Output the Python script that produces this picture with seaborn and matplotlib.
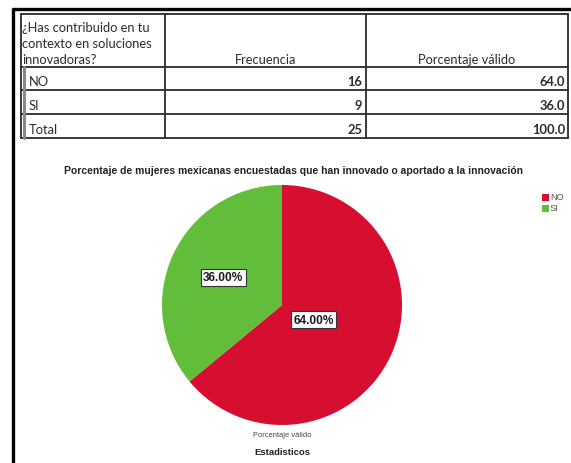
import numpy as np
import matplotlib
matplotlib.use("Agg")
import matplotlib.pyplot as plt
import seaborn as sns

# Frequency table: "¿Has contribuido en tu contexto en soluciones innovadoras?"
question = "¿Has contribuido en tu\ncontexto en soluciones\ninnovadoras?"
col_headers = ["Frecuencia", "Porcentaje válido"]
categories = ["NO", "SI"]
frecuencia = [16, 9]
porcentaje = [64.0, 36.0]
total_label = "Total"

chart_title = ("Porcentaje de mujeres mexicanas encuestadas que han innovado "
               "o aportado a la innovación")
pie_xlabel = "Porcentaje válido"
footer = "Estadisticos"
pie_colors = ["#D60E30", "#62BD3A"]

sns.set_theme(style="white")
plt.rcParams["font.family"] = ["Liberation Sans", "DejaVu Sans"]

W, H = 571, 464
fig = plt.figure(figsize=(W / 100, H / 100), dpi=100)
fig.patch.set_facecolor("white")

# Pixel-space canvas for the frame and the table
bg = fig.add_axes([0, 0, 1, 1])
bg.set_xlim(0, W)
bg.set_ylim(H, 0)
bg.axis("off")

# Outer frame (left and top edges)
bg.plot([13, 13], [9, H], color="black", lw=2.4, solid_capstyle="butt")
bg.plot([12, W], [9.5, 9.5], color="black", lw=2.4, solid_capstyle="butt")

# Table geometry
x0, x1, x2, x3 = 21, 165, 366, 568
row_y = [15, 68, 91, 115, 139]
tc = "#2b2b2b"
lw = 1.3
for y in row_y:
    bg.plot([x0, x3], [y, y], color=tc, lw=lw)
for x in (x0, x1, x2, x3):
    bg.plot([x, x], [row_y[0], row_y[-1]], color=tc, lw=lw)
# grey double rule on the row-label edge of the body rows
bg.plot([23.6, 23.6], [row_y[1], row_y[-1]], color="#8a8a8a", lw=2.2)

tfont = ["Lato", "DejaVu Sans"]
fs = 9.3
bg.text(x0 + 1, 64, question, ha="left", va="baseline", fontsize=fs,
        family=tfont, color=tc, linespacing=1.4)
bg.text((x1 + x2) / 2, 64, col_headers[0], ha="center", va="baseline",
        fontsize=fs, family=tfont, color=tc)
bg.text((x2 + x3) / 2, 64, col_headers[1], ha="center", va="baseline",
        fontsize=fs, family=tfont, color=tc)

rows = list(zip(categories, frecuencia, porcentaje))
rows.append((total_label, sum(frecuencia), sum(porcentaje)))
for i, (lab, f, p) in enumerate(rows):
    yb = row_y[i + 2] - 5
    bg.text(x0 + 8, yb, lab, ha="left", va="baseline", fontsize=fs,
            family=tfont, color=tc)
    bg.text(x2 - 4, yb, f"{f}", ha="right", va="baseline", fontsize=fs,
            family=tfont, color=tc, fontweight="bold")
    bg.text(x3 - 3, yb, f"{p:.1f}", ha="right", va="baseline", fontsize=fs,
            family=tfont, color=tc, fontweight="bold")

# Chart title
bg.text(294, 171, chart_title, ha="center", va="center", fontsize=7.5,
        fontweight="bold", color="#222222")

# Pie chart
cx, cy, r = 282, 306, 120
pax = fig.add_axes([(cx - r) / W, (H - (cy + r)) / H, 2 * r / W, 2 * r / H])
wedges, _ = pax.pie(porcentaje, colors=pie_colors, startangle=90,
                    counterclock=False, radius=1,
                    wedgeprops=dict(linewidth=0))
pax.set_xlim(-1, 1)
pax.set_ylim(-1, 1)
pax.axis("off")

label_dist = [0.29, 0.54]
for w, p, d in zip(wedges, porcentaje, label_dist):
    ang = np.deg2rad((w.theta1 + w.theta2) / 2)
    pax.text(d * np.cos(ang), d * np.sin(ang), f"{p:.2f}%", ha="center",
             va="center", fontsize=8.6, fontweight="bold", color="#1a1a1a",
             bbox=dict(boxstyle="square,pad=0.2", fc="white", ec="#333333",
                       lw=0.8))

# Legend
for i, (lab, col) in enumerate(zip(categories, pie_colors)):
    y = 198 + i * 11
    bg.add_patch(plt.Rectangle((542, y - 3.5), 7, 7, color=col, lw=0))
    bg.text(550, y, lab, ha="left", va="center", fontsize=6.6,
            color="#555555")

bg.text(cx, 436, pie_xlabel, ha="center", va="center", fontsize=5.4,
        color="#444444")
bg.text(cx, 453, footer, ha="center", va="center", fontsize=6.8,
        fontweight="bold", color="#222222")

fig.savefig("out.png", dpi=100)
